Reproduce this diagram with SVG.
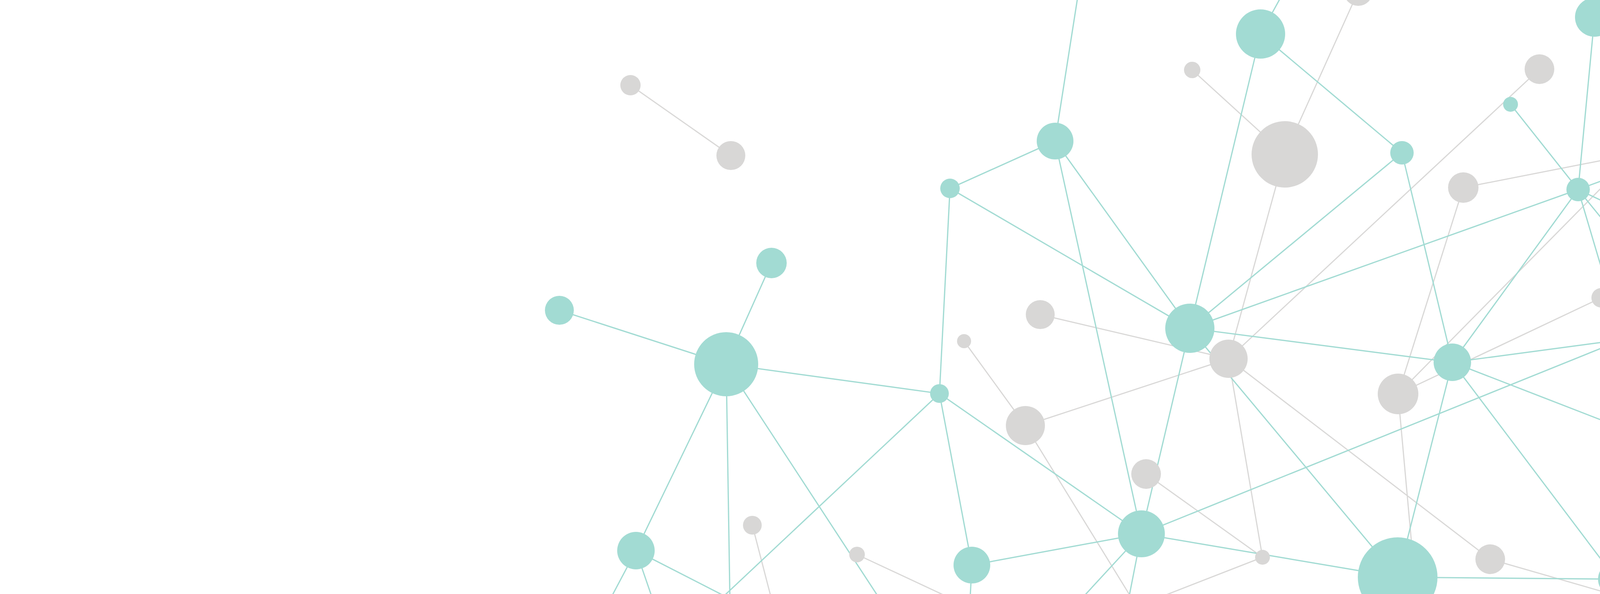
<svg xmlns="http://www.w3.org/2000/svg" width="5760" height="1520" viewBox="0 0 5760 1520">
<style>
.t{stroke:#a2dbd3;stroke-width:3.2;fill:none}
.g{stroke:#d9d8d7;stroke-width:3;fill:none}
.tn{fill:#a2dbd3}
.gn{fill:#d8d7d6}
</style>
<rect x="0" y="0" width="5760" height="1520" fill="#ffffff"/>
<g id="connectors">
<line class="g" x1="1614" y1="218" x2="1871" y2="398"/>
<line class="g" x1="3052" y1="179" x2="3289" y2="395"/>
<line class="g" x1="3289" y1="395" x2="3477" y2="-22"/>
<line class="g" x1="3289" y1="395" x2="3145" y2="918"/>
<line class="g" x1="3941" y1="177" x2="3145" y2="918"/>
<line class="g" x1="3746" y1="480" x2="4185" y2="394"/>
<line class="g" x1="3746" y1="480" x2="3579" y2="1008"/>
<line class="g" x1="4185" y1="394" x2="4426" y2="156"/>
<line class="g" x1="4185" y1="394" x2="4288" y2="600"/>
<line class="g" x1="4185" y1="394" x2="4528" y2="516"/>
<line class="g" x1="4185" y1="394" x2="3579" y2="1008"/>
<line class="g" x1="4426" y1="156" x2="4813" y2="240"/>
<line class="g" x1="4426" y1="156" x2="4868" y2="-53"/>
<line class="g" x1="4253" y1="145" x2="4246" y2="-60"/>
<line class="g" x1="2663" y1="805" x2="3145" y2="918"/>
<line class="g" x1="2468" y1="873" x2="2625" y2="1089"/>
<line class="g" x1="2625" y1="1089" x2="3145" y2="918"/>
<line class="g" x1="2625" y1="1089" x2="2915" y2="1560"/>
<line class="g" x1="2934" y1="1213" x2="3232" y2="1426"/>
<line class="g" x1="3145" y1="918" x2="3232" y2="1426"/>
<line class="g" x1="3145" y1="918" x2="3815" y2="1431"/>
<line class="g" x1="3815" y1="1431" x2="4263" y2="1560"/>
<line class="g" x1="3579" y1="1008" x2="4099" y2="762"/>
<line class="g" x1="3579" y1="1008" x2="3629" y2="1560"/>
<line class="g" x1="4199" y1="1135" x2="4502" y2="1123"/>
<line class="g" x1="3232" y1="1426" x2="2888" y2="1560"/>
<line class="g" x1="2194" y1="1419" x2="2496" y2="1560"/>
<line class="g" x1="1926" y1="1344" x2="1982" y2="1560"/>
<line class="t" x1="2701" y1="361" x2="2764" y2="-40"/>
<line class="t" x1="2701" y1="361" x2="2432" y2="482"/>
<line class="t" x1="2701" y1="361" x2="2922" y2="1366"/>
<line class="t" x1="2701" y1="361" x2="3046" y2="840"/>
<line class="t" x1="2432" y1="482" x2="2405" y2="1007"/>
<line class="t" x1="2432" y1="482" x2="3046" y2="840"/>
<line class="t" x1="1975" y1="673" x2="1859" y2="932"/>
<line class="t" x1="1432" y1="794" x2="1859" y2="932"/>
<line class="t" x1="1859" y1="932" x2="2405" y2="1007"/>
<line class="t" x1="1859" y1="932" x2="1628" y2="1409"/>
<line class="t" x1="1859" y1="932" x2="1869" y2="1560"/>
<line class="t" x1="1859" y1="932" x2="2270" y2="1560"/>
<line class="t" x1="2405" y1="1007" x2="1816" y2="1560"/>
<line class="t" x1="2405" y1="1007" x2="2922" y2="1366"/>
<line class="t" x1="2405" y1="1007" x2="2488" y2="1446"/>
<line class="t" x1="2488" y1="1446" x2="2922" y2="1366"/>
<line class="t" x1="2488" y1="1446" x2="2482" y2="1560"/>
<line class="t" x1="2922" y1="1366" x2="3046" y2="840"/>
<line class="t" x1="2922" y1="1366" x2="4154" y2="869"/>
<line class="t" x1="2922" y1="1366" x2="3578" y2="1477"/>
<line class="t" x1="2922" y1="1366" x2="2743" y2="1560"/>
<line class="t" x1="2922" y1="1366" x2="2884" y2="1560"/>
<line class="t" x1="3046" y1="840" x2="3578" y2="1477"/>
<line class="t" x1="3046" y1="840" x2="3718" y2="927"/>
<line class="t" x1="3046" y1="840" x2="4040" y2="485"/>
<line class="t" x1="3227" y1="87" x2="3297" y2="-40"/>
<line class="t" x1="3227" y1="87" x2="3046" y2="840"/>
<line class="t" x1="3227" y1="87" x2="3589" y2="391"/>
<line class="t" x1="3589" y1="391" x2="3046" y2="840"/>
<line class="t" x1="3589" y1="391" x2="3718" y2="927"/>
<line class="t" x1="3867" y1="267" x2="4040" y2="485"/>
<line class="t" x1="4082" y1="44" x2="4040" y2="485"/>
<line class="t" x1="4040" y1="485" x2="4428" y2="342"/>
<line class="t" x1="4040" y1="485" x2="3718" y2="927"/>
<line class="t" x1="4040" y1="485" x2="4154" y2="869"/>
<line class="t" x1="4040" y1="485" x2="4714" y2="1313"/>
<line class="t" x1="4040" y1="485" x2="4424" y2="666"/>
<line class="t" x1="4428" y1="342" x2="4515" y2="-60"/>
<line class="t" x1="4428" y1="342" x2="4868" y2="-53"/>
<line class="t" x1="4789" y1="368" x2="4424" y2="666"/>
<line class="t" x1="4789" y1="368" x2="4714" y2="1313"/>
<line class="t" x1="4789" y1="368" x2="5124" y2="967"/>
<line class="t" x1="4424" y1="666" x2="4154" y2="869"/>
<line class="t" x1="4424" y1="666" x2="5124" y2="967"/>
<line class="t" x1="3718" y1="927" x2="4154" y2="869"/>
<line class="t" x1="3718" y1="927" x2="3578" y2="1477"/>
<line class="t" x1="3718" y1="927" x2="4714" y2="1313"/>
<line class="t" x1="3718" y1="927" x2="4137" y2="1482"/>
<line class="t" x1="4154" y1="869" x2="4137" y2="1482"/>
<line class="t" x1="3578" y1="1477" x2="4137" y2="1482"/>
<line class="t" x1="4137" y1="1482" x2="4580" y2="1560"/>
<line class="t" x1="5124" y1="967" x2="5372" y2="1050"/>
<line class="t" x1="5124" y1="967" x2="4714" y2="1313"/>
<line class="t" x1="5124" y1="967" x2="5179" y2="1323"/>
<line class="t" x1="1628" y1="1409" x2="1548" y2="1560"/>
<line class="t" x1="1628" y1="1409" x2="1680" y2="1560"/>
<line class="t" x1="1628" y1="1409" x2="1923" y2="1560"/>
</g>
<g id="node-A"><circle class="gn" cx="1614" cy="218" r="26"/></g>
<g id="node-B"><circle class="gn" cx="1871" cy="398" r="37"/></g>
<g id="node-G"><circle class="gn" cx="3289" cy="395" r="85"/></g>
<g id="node-H"><circle class="gn" cx="3052" cy="179" r="21"/></g>
<g id="node-16"><circle class="gn" cx="3477" cy="-22" r="37"/></g>
<g id="node-J"><circle class="gn" cx="3941" cy="177" r="38"/></g>
<g id="node-N"><circle class="gn" cx="4253" cy="145" r="26"/></g>
<g id="node-O"><circle class="gn" cx="3746" cy="480" r="39"/></g>
<g id="node-P"><circle class="gn" cx="4185" cy="394" r="24"/></g>
<g id="node-Q"><circle class="gn" cx="4288" cy="600" r="16"/></g>
<g id="node-S"><circle class="gn" cx="4426" cy="156" r="28"/></g>
<g id="node-T"><circle class="gn" cx="4813" cy="240" r="31"/></g>
<g id="node-V"><circle class="gn" cx="4528" cy="516" r="43"/></g>
<g id="node-9"><circle class="gn" cx="2663" cy="805" r="37"/></g>
<g id="node-10"><circle class="gn" cx="2468" cy="873" r="18"/></g>
<g id="node-12"><circle class="gn" cx="3145" cy="918" r="49"/></g>
<g id="node-37"><circle class="gn" cx="2625" cy="1089" r="50"/></g>
<g id="node-44"><circle class="gn" cx="2934" cy="1213" r="38"/></g>
<g id="node-46"><circle class="gn" cx="3232" cy="1426" r="19"/></g>
<g id="node-48"><circle class="gn" cx="3815" cy="1431" r="38"/></g>
<g id="node-36"><circle class="gn" cx="3579" cy="1008" r="52"/></g>
<g id="node-33"><circle class="gn" cx="4099" cy="762" r="25"/></g>
<g id="node-40"><circle class="gn" cx="4199" cy="1135" r="51"/></g>
<g id="node-41"><circle class="gn" cx="4502" cy="1123" r="23"/></g>
<g id="node-51"><circle class="gn" cx="2194" cy="1419" r="20"/></g>
<g id="node-52"><circle class="gn" cx="1926" cy="1344" r="24"/></g>
<g id="node-C"><circle class="tn" cx="2701" cy="361" r="47"/></g>
<g id="node-D"><circle class="tn" cx="2432" cy="482" r="25"/></g>
<g id="node-E"><circle class="tn" cx="1975" cy="673" r="39"/></g>
<g id="node-6"><circle class="tn" cx="1432" cy="794" r="37"/></g>
<g id="node-7"><circle class="tn" cx="1859" cy="932" r="82"/></g>
<g id="node-8"><circle class="tn" cx="2405" cy="1007" r="24"/></g>
<g id="node-11"><circle class="tn" cx="3046" cy="840" r="63"/></g>
<g id="node-F"><circle class="tn" cx="3227" cy="87" r="63"/></g>
<g id="node-I"><circle class="tn" cx="3589" cy="391" r="30"/></g>
<g id="node-K"><circle class="tn" cx="3867" cy="267" r="19"/></g>
<g id="node-L"><circle class="tn" cx="4082" cy="44" r="50"/></g>
<g id="node-M"><circle class="tn" cx="4040" cy="485" r="30"/></g>
<g id="node-R"><circle class="tn" cx="4428" cy="342" r="35"/></g>
<g id="node-32"><circle class="tn" cx="4868" cy="-53" r="60"/></g>
<g id="node-U"><circle class="tn" cx="4789" cy="368" r="72"/></g>
<g id="node-W"><circle class="tn" cx="4424" cy="666" r="38"/></g>
<g id="node-35"><circle class="tn" cx="3718" cy="927" r="48"/></g>
<g id="node-34"><circle class="tn" cx="4154" cy="869" r="47"/></g>
<g id="node-38"><circle class="tn" cx="5124" cy="967" r="47"/></g>
<g id="node-39"><circle class="tn" cx="5372" cy="1050" r="32"/></g>
<g id="node-42"><circle class="tn" cx="4714" cy="1313" r="30"/></g>
<g id="node-43"><circle class="tn" cx="5179" cy="1323" r="28"/></g>
<g id="node-45"><circle class="tn" cx="2922" cy="1366" r="60"/></g>
<g id="node-47"><circle class="tn" cx="3578" cy="1477" r="102"/></g>
<g id="node-49"><circle class="tn" cx="4137" cy="1482" r="46"/></g>
<g id="node-50"><circle class="tn" cx="2488" cy="1446" r="47"/></g>
<g id="node-53"><circle class="tn" cx="1628" cy="1409" r="48"/></g>
</svg>
